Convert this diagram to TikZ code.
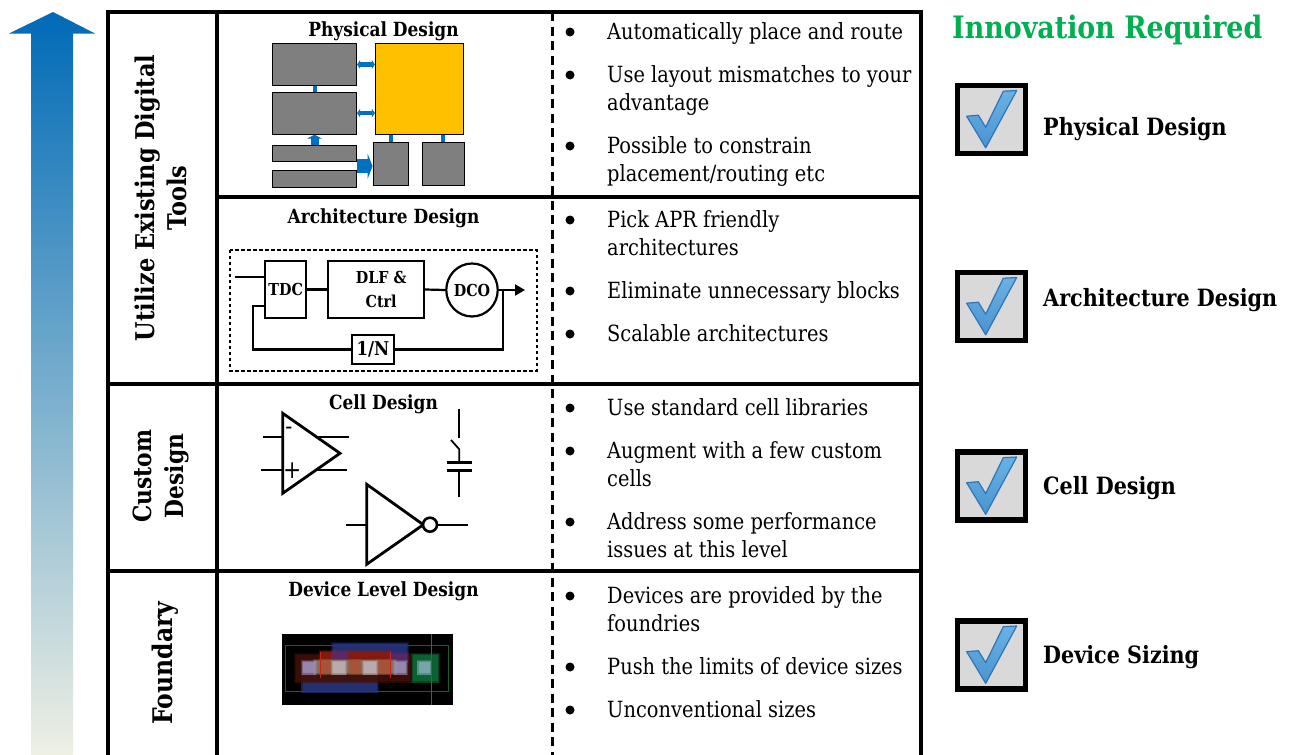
\documentclass[tikz,border=0pt]{standalone}
\usepackage{fontspec}
\setmainfont[FakeStretch=0.87]{DejaVu Serif}
\usetikzlibrary{arrows.meta,shapes.geometric,calc}
\definecolor{archblue}{HTML}{0070C0}
\definecolor{chipgray}{HTML}{7F7F7F}
\definecolor{chipyellow}{HTML}{FFC000}
\definecolor{innogreen}{HTML}{00B050}
\definecolor{tickhi}{HTML}{6AB2E4}
\definecolor{ticklo}{HTML}{4A93D0}
\definecolor{tickedge}{HTML}{2F75B5}
\definecolor{gradmid}{HTML}{74ABD3}
\definecolor{gradend}{HTML}{EEF0E4}
\definecolor{dvgreenline}{HTML}{14602C}
\definecolor{dvblue}{HTML}{26337C}
\definecolor{dvbrown}{HTML}{3F1008}
\definecolor{dvred}{HTML}{8A1A10}
\definecolor{dvpurple}{HTML}{5A2A6A}
\definecolor{dvgreen}{HTML}{0C6A34}
\definecolor{dvgate}{HTML}{8A7A66}
\definecolor{dvorange}{HTML}{A85238}
\definecolor{dvredline}{HTML}{C02818}
\definecolor{dvsqa}{HTML}{9C90B8}
\definecolor{dvsqb}{HTML}{BFB0B0}
\definecolor{dvsqc}{HTML}{80A8B4}
\definecolor{dvgrid}{HTML}{555555}
\newcommand{\bx}[6][]{\node[#1,minimum width={(#5-#3)*1pt},minimum height={(#6-#4)*1pt}] (#2) at ({(#3+#5)/2},{(#4+#6)/2}) {};}
\newcommand{\bxt}[7][]{\node[#1,minimum width={(#5-#3)*1pt},minimum height={(#6-#4)*1pt}] (#2) at ({(#3+#5)/2},{(#4+#6)/2}) {#7};}
\newcommand{\softfill}[5]{%
  \fill[#1,opacity=.3] ({#2-5},{#3-5}) rectangle ({#4+5},{#5+5});
  \fill[#1,opacity=.5] ({#2-2.5},{#3-2.5}) rectangle ({#4+2.5},{#5+2.5});
  \fill[#1,opacity=.8] ({#2+1},{#3+1}) rectangle ({#4-1},{#5-1});}
\newcommand{\tickbox}[2]{%
  \node[tickframe] (#1) at (991.5,#2) {};
  \begin{scope}[shift={(991.5,#2)}]
    \shadedraw[top color=tickhi,bottom color=ticklo,draw=tickedge,line width=1.2pt,line join=round]
      (-24.8,-3.3) -- (-13.2,-4.3) -- (-5.8,7.7) -- (11.8,-28.3) -- (25.2,-29) -- (-5.8,28.3) -- cycle;
  \end{scope}}
\tikzset{
  x=1pt,y=-1pt,
  gridline/.style={line width=3.6pt,line cap=rect},
  titletext/.style={font=\fontsize{19.5}{22}\selectfont\bfseries,inner sep=0pt},
  bullettext/.style={font=\fontsize{22.3}{28}\selectfont,anchor=north west,align=left,inner sep=0pt,execute at begin node=\strut},
  bulletdot/.style={circle,fill=black,minimum size=9pt,inner sep=0pt},
  sidetext/.style={font=\fontsize{25.8}{32}\selectfont\bfseries,rotate=90,align=center,inner sep=0pt},
  righttext/.style={font=\fontsize{23.8}{28}\selectfont\bfseries,anchor=west,inner sep=0pt},
  chip/.style={draw=black,fill=chipgray,line width=.8pt,inner sep=0pt},
  core/.style={draw=black,fill=chipyellow,line width=.8pt,inner sep=0pt},
  thinlink/.style={archblue,line width=4.5pt,{Triangle[width=8.5pt,length=3pt]}-{Triangle[width=8.5pt,length=3pt]}},
  uplink/.style={archblue,line width=4pt},
  blockbox/.style={draw=black,line width=2.2pt,inner sep=0pt,font=\fontsize{16.5}{24}\selectfont\bfseries,align=center},
  wire/.style={draw=black,line width=2.2pt},
  sym/.style={line width=2.8pt,draw=black,line join=miter},
  symthin/.style={line width=1.8pt,draw=black},
  tickframe/.style={draw=black,fill=black!15,line width=5.5pt,minimum size=68pt,inner sep=0pt},
}
\begin{document}
\begin{tikzpicture}
\useasboundingbox (0,0) rectangle (1291,755);
% gradient arrow
\shade[top color=archblue!95!black,middle color=gradmid,bottom color=gradend]
  (53,12) -- (95,33.5) -- (73,33.5) -- (73,755) -- (31,755) -- (31,33.5) -- (9,33.5) -- cycle;
% table
\draw[gridline] (108,755) -- (108,12) -- (921,12) -- (921,755);
\draw[gridline] (217,12) -- (217,755);
\draw[gridline] (217,197) -- (921,197);
\draw[gridline] (108,384) -- (921,384);
\draw[gridline] (108,571) -- (921,571);
\draw[line width=3pt,dash pattern=on 9pt off 5.5pt] (552,12) -- (552,755);
% side labels
\node[sidetext] (sideA) at (161,198) {Utilize Existing Digital\\Tools};
\node[sidetext,font=\fontsize{25}{32}\selectfont\bfseries] (sideB) at (161,476) {Custom\\Design};
\node[sidetext,font=\fontsize{27}{32}\selectfont\bfseries] (sideC) at (165,663) {Foundary};
% titles
\node[titletext] (tA) at (383.5,31) {Physical Design};
\node[titletext] (tB) at (383.5,218) {Architecture Design};
\node[titletext] (tC) at (383.5,404) {Cell Design};
\node[titletext] (tD) at (383.5,591) {Device Level Design};
% physical design
\bx[chip]{bOne}{272.3}{43.3}{356.7}{85.7}
\bx[chip]{bTwo}{272.3}{92}{356.7}{134.3}
\bx[chip]{barOne}{272.3}{145}{356.7}{161.7}
\bx[chip]{barTwo}{272.3}{170.7}{356.7}{187.3}
\bx[core]{macro}{375.3}{43.3}{463.3}{134.3}
\bx[chip]{smOne}{373}{142.7}{408.7}{185.3}
\bx[chip]{smTwo}{422.3}{142.7}{464.3}{185.3}
\draw[thinlink] (bOne.east) -- (bOne.east -| macro.west);
\draw[thinlink] (bTwo.east) -- (bTwo.east -| macro.west);
\draw[uplink] (bOne.south) -- (bTwo.north);
\draw[uplink] (macro.south -| smOne.north) -- (smOne.north);
\draw[uplink] (macro.south -| smTwo.north) -- (smTwo.north);
\draw[archblue,line width=8pt,-{Triangle[width=15pt,length=4pt]}] (barOne.north) -- (bTwo.south);
\coordinate (barMid) at ($(barOne.south east)!.5!(barTwo.north east)$);
\draw[archblue,line width=14pt,-{Triangle[width=25pt,length=5pt]}] (barMid) -- (barMid -| smOne.west);
% architecture
\draw[line width=2pt,dash pattern=on 3.4pt off 2.6pt] (230,250) rectangle (536.7,370.7);
\bxt[blockbox]{tdc}{265.3}{260.7}{306}{318.3}{TDC}
\bxt[blockbox]{dlf}{328.3}{260.7}{424}{318.3}{\hspace{10pt}DLF \&\\\hspace{10pt}Ctrl}
\node[blockbox,ellipse,minimum width=50.6pt,minimum height=53pt] (dco) at (472,290) {DCO};
\bxt[blockbox,font=\fontsize{19}{24}\selectfont\bfseries]{div}{352}{335}{394}{364}{1/N}
\coordinate (inFree) at (235,276.7);
\coordinate (outFree) at (525,290);
\coordinate (tapPt) at (502.7,290);
\coordinate (fbTop) at (252.7,306);
\draw[wire] (inFree) -- (inFree -| tdc.west);
\draw[wire] (tdc.east) -- (dlf.west);
\draw[wire] (dlf.east) -- (dco.west);
\draw[wire,-{Triangle[width=11pt,length=10pt]}] (dco.east) -- (outFree);
\draw[wire] (tapPt) |- (div.east);
\draw[wire] (div.west) -| (fbTop) -- (fbTop -| tdc.west);
% cell
\coordinate (opA) at (282.7,413.3);
\coordinate (opB) at (282.7,493.3);
\coordinate (opC) at (340,453.3);
\draw[symthin] (263.3,436.7) -- (282.7,436.7) (318,436.7) -- (348.7,436.7);
\draw[symthin] (261,469.7) -- (282.7,469.7) (316.7,469.7) -- (346.7,469.7);
\draw[sym] (opA) -- (opC) -- (opB) -- cycle;
\node[font=\fontsize{24}{24}\selectfont,inner sep=0pt] (minusSign) at (289,431) {-};
\node[font=\fontsize{25}{25}\selectfont,inner sep=0pt] (plusSign) at (292.3,470.7) {+};
\draw[symthin] (459.3,409) -- (459.3,437.7);
\draw[symthin] (451,440) -- (459.3,449.3) -- (459.3,462);
\draw[line width=3pt] (447.3,462.3) -- (471.7,462.3);
\draw[line width=3pt] (447.3,470.3) -- (471.7,470.3);
\draw[symthin] (459.3,470.3) -- (459.3,497.3);
\coordinate (invA) at (366.7,484.3);
\coordinate (invB) at (366.7,564.3);
\coordinate (invC) at (423.3,524.7);
\draw[sym] (invA) -- (invC) -- (invB) -- cycle;
\node[circle,draw=black,line width=2.6pt,fill=white,minimum size=14pt,inner sep=0pt] (bubble) at (430,524.7) {};
\draw[symthin] (346,524.7) -- (366.7,524.7);
\draw[symthin] (bubble.east) -- (468,524.7);
% device layout
\begin{scope}[shift={(270,625)},x=.3333pt,y=-.3333pt]
  \fill[black] (35,28) rectangle (548,240);
  \draw[draw=dvgreenline,line width=.8pt] (45,60) rectangle (535,198);
  \softfill{dvblue}{188}{57}{412}{100}
  \softfill{dvblue}{97}{150}{322}{200}
  \softfill{dvbrown}{78}{88}{420}{170}
  \softfill{dvred}{152}{80}{360}{108}
  \softfill{dvpurple}{188}{80}{232}{108}
  \softfill{dvpurple}{360}{85}{412}{108}
  \softfill{dvgreen}{428}{88}{505}{170}
  \softfill{dvgate}{135}{108}{375}{145}
  \softfill{dvorange}{152}{108}{180}{145}
  \softfill{dvorange}{240}{108}{270}{145}
  \softfill{dvorange}{325}{108}{360}{145}
  \draw[draw=dvredline,line width=.6pt] (152,80) -- (152,158) (360,80) -- (360,158);
  \softfill{dvsqa}{99}{110}{135}{146}
  \softfill{dvsqb}{189}{110}{225}{146}
  \softfill{dvsqb}{282}{110}{318}{146}
  \softfill{dvsqa}{374}{110}{410}{146}
  \softfill{dvsqc}{445}{110}{481}{146}
  \draw[draw=dvgrid,line width=.5pt] (484,28) -- (484,240);
\end{scope}
% bullets
\foreach \nm/\yy in {a/32,b/75,c/146,d/220,e/291,f/334,g/408,h/451,i/522,j/596,k/667,l/710}{
  \node[bulletdot] (dot\nm) at (570,\yy) {};
}
\node[bullettext] (ta) at (607,19.4) {Automatically place and route};
\node[bullettext] (tb) at (607,65.4) {Use layout mismatches to your\\advantage};
\node[bullettext] (tc) at (607,136.4) {Possible to constrain\\placement/routing etc};
\node[bullettext] (td) at (607,210.4) {Pick APR friendly\\architectures};
\node[bullettext] (te) at (607,278.4) {Eliminate unnecessary blocks};
\node[bullettext] (tf) at (607,321.4) {Scalable architectures};
\node[bullettext] (tg) at (607,395.4) {Use standard cell libraries};
\node[bullettext] (th) at (607,441.4) {Augment with a few custom\\cells};
\node[bullettext] (ti) at (607,512.4) {Address some performance\\issues at this level};
\node[bullettext] (tj) at (607,586.4) {Devices are provided by the\\foundries};
\node[bullettext] (tk) at (607,654.4) {Push the limits of device sizes};
\node[bullettext] (tl) at (607,697.4) {Unconventional sizes};
% right column
\node[font=\fontsize{30.9}{32}\selectfont\bfseries,text=innogreen,anchor=west,inner sep=0pt] (inno) at (952,30) {Innovation Required};
\tickbox{ckA}{119.5}
\tickbox{ckB}{306.5}
\tickbox{ckC}{486}
\tickbox{ckD}{655}
\node[righttext] (rA) at (1043,129) {Physical Design};
\node[righttext] (rB) at (1043,300.5) {Architecture Design};
\node[righttext] (rC) at (1043,488) {Cell Design};
\node[righttext] (rD) at (1043,657) {Device Sizing};
\end{tikzpicture}
\end{document}
